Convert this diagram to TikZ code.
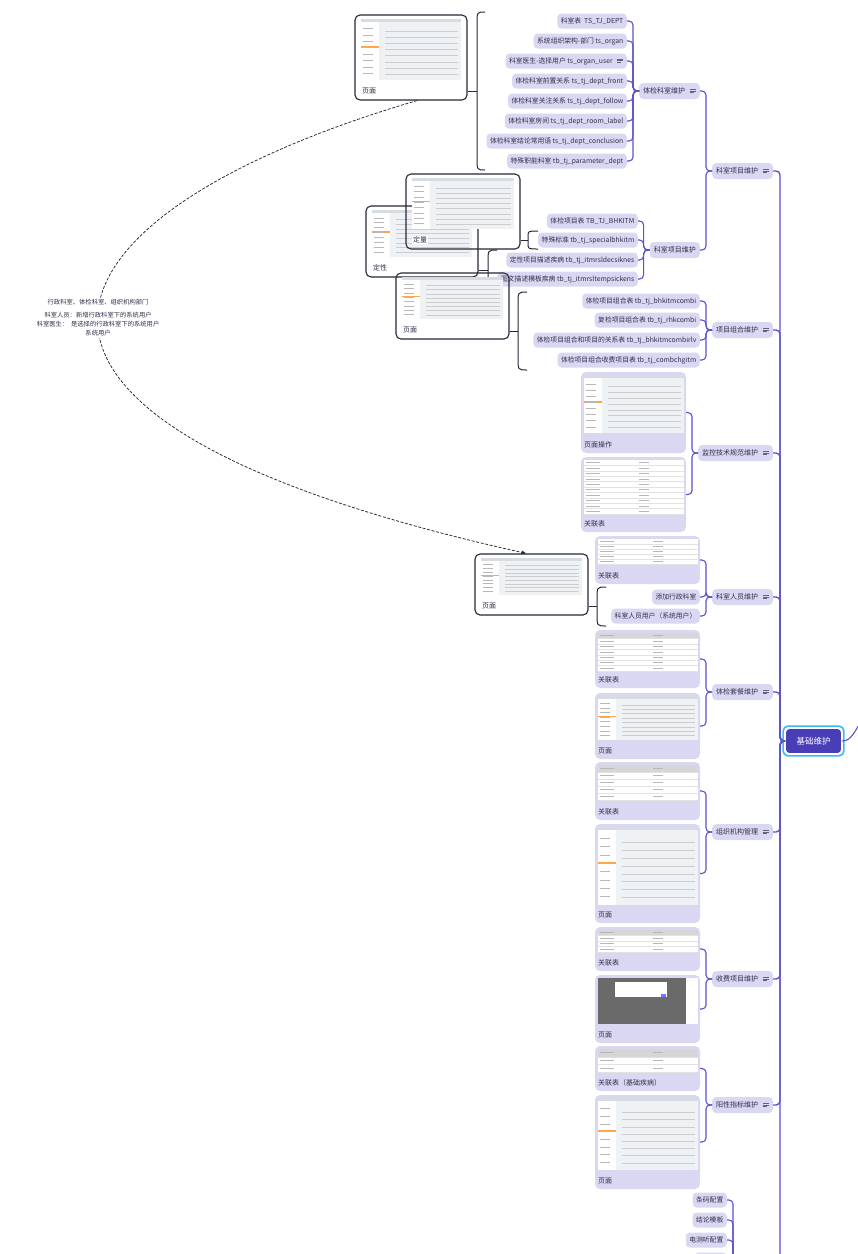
\documentclass[tikz,border=0pt]{standalone}
\usepackage{fontspec}
\setmainfont{Noto Sans CJK SC}
\usetikzlibrary{arrows.meta,backgrounds}

\definecolor{lav}{HTML}{D9D7F1}
\definecolor{ink}{HTML}{30304A}
\definecolor{linkc}{HTML}{5B52CC}
\definecolor{rootc}{HTML}{4A3DB8}
\definecolor{ringc}{HTML}{3DB8F2}
\definecolor{bracec}{HTML}{262636}
\definecolor{shotbg}{HTML}{EEF2F5}
\definecolor{shotbar}{HTML}{D5DDE3}
\definecolor{hdrc}{HTML}{D6D6D6}
\definecolor{rowc}{HTML}{E2E2E2}
\definecolor{markc}{HTML}{B8B8B8}
\definecolor{darkc}{HTML}{6A6A6A}

% note icon after a topic
\newcommand{\notei}{\tikz[baseline=-1pt]{\draw[ink!75, line width=.6pt] (0,3.2pt) -- (6pt,3.2pt) (0,1.6pt) -- (6pt,1.6pt) (0,0) -- (4pt,0);}}

% screenshot of a page
\newcommand{\pageshot}[4]{%
  \pgfmathsetmacro\qxa{#1}\pgfmathsetmacro\qya{#2}\pgfmathsetmacro\qxb{#3}\pgfmathsetmacro\qyb{#4}%
  \pgfmathsetmacro\qw{\qxb-\qxa}\pgfmathsetmacro\qh{\qyb-\qya}%
  \fill[shotbg] (\qxa,\qya) rectangle (\qxb,\qyb);
  \fill[white!94!shotbg] (\qxa,{\qya+3}) rectangle ({\qxa+.18*\qw},\qyb);
  \fill[shotbar] (\qxa,\qya) rectangle (\qxb,{\qya+3});
  \fill[orange!70] (\qxa,{\qya+.45*\qh}) rectangle ({\qxa+.18*\qw},{\qya+.45*\qh+1.5});
  \foreach \k in {2,...,9}
    \draw[markc!70, line width=.4pt] ({\qxa+.24*\qw},{\qya+\k*\qh/10}) -- ({\qxb-3},{\qya+\k*\qh/10});
  \foreach \k in {1,...,8}
    \draw[markc, line width=.6pt] ({\qxa+2},{\qya+3+\k*(\qh-3)/9}) -- ++({.1*\qw},0);
}

% screenshot of a table
\newcommand{\tabshot}[6]{%
  \pgfmathsetmacro\qxa{#1}\pgfmathsetmacro\qya{#2}\pgfmathsetmacro\qxb{#3}\pgfmathsetmacro\qyb{#4}%
  \pgfmathsetmacro\qh{(\qyb-\qya)/#5}%
  \fill[white] (\qxa,\qya) rectangle (\qxb,\qyb);
  \ifnum#6=1 \fill[hdrc] (\qxa,\qya) rectangle (\qxb,{\qya+\qh});\fi
  \foreach \k in {1,...,#5}{%
    \draw[rowc, line width=.3pt] (\qxa,{\qya+\k*\qh}) -- (\qxb,{\qya+\k*\qh});
    \draw[markc, line width=.8pt] ({\qxa+2},{\qya+(\k-.5)*\qh}) -- ++(14,0)
      ({\qxa+.55*(\qxb-\qxa)},{\qya+(\k-.5)*\qh}) -- ++(10,0);
  }%
}

\begin{document}
\begin{tikzpicture}[x=1pt,y=-1pt,
    topic/.style={fill=lav, rounded corners=4pt, minimum height=16pt, inner xsep=4pt, inner ysep=0pt,
      text=ink, font=\fontsize{7}{8}\selectfont, anchor=east},
    leaf/.style={topic, minimum height=15pt, inner xsep=3.5pt, font=\fontsize{6.8}{8}\selectfont},
    card/.style={fill=lav, rounded corners=5pt, minimum width=105pt, inner sep=0pt},
    cardtxt/.style={text=ink, font=\fontsize{7}{8}\selectfont, anchor=west, inner sep=0pt},
    sumpage/.style={draw=bracec, line width=1.1pt, rounded corners=5pt, inner sep=0pt},
    link/.style={draw=linkc, line width=1.1pt, rounded corners=4pt},
    trunk/.style={link, line width=1.4pt},
    brace/.style={draw=bracec, line width=1pt},
    rel/.style={draw=bracec, line width=.75pt, dash pattern=on 3pt off 1.6pt}]
  \useasboundingbox (0,0) rectangle (858,1254);

  % root
  \node[fill=rootc, text=white, draw=white, line width=.8pt, rounded corners=4pt, minimum width=56pt,
    minimum height=25pt, font=\fontsize{8.5}{10}\selectfont] (root) at (813.5,741) {基础维护};
  \draw[ringc, line width=1.6pt, rounded corners=5pt] ([shift={(-2,-2)}]root.north west) rectangle ([shift={(2,2)}]root.south east);
  \coordinate (up) at (862,721);
  \draw[link] (root.east) .. controls (852,741) and (854,731) .. (up);
  \coordinate (tr) at (780,741);
  \coordinate (tend) at (780,1275);
  \draw[trunk] (root.west) -- (tr) -- (tend);

  % main topics
  \foreach \n/\y/\tx in {ks/171/科室项目维护, xz/330/项目组合维护, jk/453/监控技术规范维护, ry/597/科室人员维护,
      tc/692/体检套餐维护, zz/832/组织机构管理, sf/979/收费项目维护, yx/1105/阳性指标维护} {
    \node[topic] (\n) at (773,\y) {\tx\hspace{4pt}\notei};
    \draw[trunk] (\n.east) -| (tr) -- (root.west);
  }

  % 科室项目维护
  \node[topic] (kw) at (700,91) {体检科室维护\hspace{4pt}\notei};
  \node[topic] (kx) at (700,250) {科室项目维护};
  \foreach \c in {kw,kx} \draw[link] (\c.east) -| ([xshift=-6pt]ks.west) -- (ks.west);

  \foreach \y/\tx [count=\i] in {21/{科室表\ \ TS\_TJ\_DEPT}, 41/{系统组织架构-部门 ts\_organ},
      61/{科室医生-选择用户 ts\_organ\_user\hspace{4pt}\notei}, 81/{体检科室前置关系 ts\_tj\_dept\_front},
      101/{体检科室关注关系 ts\_tj\_dept\_follow}, 121/{体检科室房间 ts\_tj\_dept\_room\_label},
      141/{体检科室结论常用语 ts\_tj\_dept\_conclusion}, 161/{特殊职能科室 tb\_tj\_parameter\_dept}} {
    \node[leaf] (kw\i) at (627,\y) {\tx};
    \draw[link] (kw\i.east) -| ([xshift=-6pt]kw.west) -- (kw.west);
  }
  \foreach \y/\tx [count=\i] in {221/{体检项目表 TB\_TJ\_BHKITM}, 240/{特殊标准 tb\_tj\_specialbhkitm},
      260/{定性项目描述疾病 tb\_tj\_itmrsldecsiknes}, 279/{图文描述模板疾病 tb\_tj\_itmrsltempsickens}} {
    \node[leaf] (kx\i) at (638,\y) {\tx};
    \draw[link] (kx\i.east) -| ([xshift=-6pt]kx.west) -- (kx.west);
  }

  % 项目组合维护
  \foreach \y/\tx [count=\i] in {301/{体检项目组合表 tb\_tj\_bhkitmcombi}, 320/{复检项目组合表 tb\_tj\_rhkcombi},
      340/{体检项目组合和项目的关系表 tb\_tj\_bhkitmcombirlv}, 360/{体检项目组合收费项目表 tb\_tj\_combchgitm}} {
    \node[leaf] (xz\i) at (700,\y) {\tx};
    \draw[link] (xz\i.east) -| ([xshift=-6pt]xz.west) -- (xz.west);
  }

  % 科室人员维护
  \node[leaf] (ry1) at (700,597) {添加行政科室};
  \node[leaf] (ry2) at (700,616) {科室人员用户（系统用户）};
  \foreach \c in {ry1,ry2} \draw[link] (\c.east) -| ([xshift=-6pt]ry.west) -- (ry.west);

  % cards with screenshots
  \foreach \n/\x/\ya/\yb/\lab/\pp in {m1/581/372/453/页面操作/jk, m2/581/457/532/关联表/jk, p1/595/536/584/关联表/ry,
      t1/595/630/688/关联表/tc, t2/595/693/759/页面/tc, o1/595/762/820/关联表/zz, o2/595/824/923/页面/zz,
      f1/595/927/971/关联表/sf, f2/595/975/1043/页面/sf, y1/595/1046/1091/关联表（基础疾病）/yx, y2/595/1095/1189/页面/yx} {
    \pgfmathsetmacro\hh{\yb-\ya}
    \node[card, minimum height=\hh pt] (\n) at ({\x+52.5},{(\ya+\yb)/2}) {};
    \node[cardtxt] (\n-t) at ({\x+3},{\yb-8}) {\lab};
    \draw[link] (\n.east) -| ([xshift=-6pt]\pp.west) -- (\pp.west);
  }
  \foreach \x/\ya/\yb/\rr/\hd in {581/457/514/10/0, 595/536/564/5/0, 595/630/671/7/1, 595/762/800/5/1,
      595/927/952/4/1, 595/1046/1072/3/1}
    \tabshot{\x+3}{\ya+3}{\x+103}{\yb}{\rr}{\hd}
  \foreach \x/\ya/\yb in {581/372/433, 595/693/740, 595/824/905, 595/1095/1170}
    \pageshot{\x+3}{\ya+3}{\x+103}{\yb}
  \fill[darkc] (598,978) rectangle (686,1024);
  \fill[white] (686,978) rectangle (698,1024);
  \fill[white] (615,982) rectangle (667,997);
  \fill[blue!55] (661,994) rectangle (666,997);

  % bottom group
  \coordinate (bt) at (733,1275);
  \foreach \y/\tx [count=\i] in {1200/条码配置, 1220/结论模板, 1240/电测听配置} {
    \node[leaf] (bm\i) at (727,\y) {\tx};
    \draw[link] (bm\i.east) -| (bt);
  }
  \node[leaf, minimum width=32pt] (bm4) at (727,1260) {};
  \draw[link] (bm4.east) -| (bt);

  % summary pages
  \foreach \n/\xa/\ya/\xb/\yb/\lab in {pa/355/15/467/100/页面, dx/366/206/478/277/定性, dl/406/174/520/249/定量,
      pb/396/273/509/339/页面, pc/475/554/588/615/页面} {
    \pgfmathsetmacro\ww{\xb-\xa}\pgfmathsetmacro\hh{\yb-\ya}
    \node[sumpage, minimum width=\ww pt, minimum height=\hh pt] (\n) at ({(\xa+\xb)/2},{(\ya+\yb)/2}) {};
    \pageshot{\xa+6}{\ya+4}{\xb-6}{\yb-20}
    \node[cardtxt, fill=white, inner sep=1pt] (\n-t) at ({\xa+6},{\yb-9}) {\lab};
  }

  \begin{scope}[on background layer]
    \draw[rel, -{Latex[length=5pt,width=4pt]}] ([xshift=6pt]pa.south) .. controls (34,213) and (-87,417) ..
      node[fill=white, inner sep=2pt, align=center, text=ink, font=\fontsize{6.3}{9}\selectfont] (note)
      {行政科室、体检科室、组织机构部门\\[4pt]科室人员：新增行政科室下的系统用户\\科室医生：\ \ 是选择的行政科室下的系统用户\\系统用户}
      ([xshift=-5pt]pc.north);
    \foreach \xt/\xl/\ya/\yb/\sn [count=\i] in {485/477/12/170/pa, 538/528/231/249/dl, 497/488/250/290/dx,
        527/518/292/370/pb, 606/597/587/626/pc} {
      \pgfmathsetmacro\rr{min(12,(\yb-\ya)/3)}
      \coordinate (br\i) at (\xl,{(\ya+\yb)/2});
      \draw[brace] (\xt,\ya) .. controls (\xl,\ya) .. (\xl,{\ya+\rr}) -- (\xl,{\yb-\rr}) .. controls (\xl,\yb) .. (\xt,\yb);
      \draw[brace] (br\i) -- (br\i -| \sn.east);
    }
  \end{scope}
\end{tikzpicture}
\end{document}
